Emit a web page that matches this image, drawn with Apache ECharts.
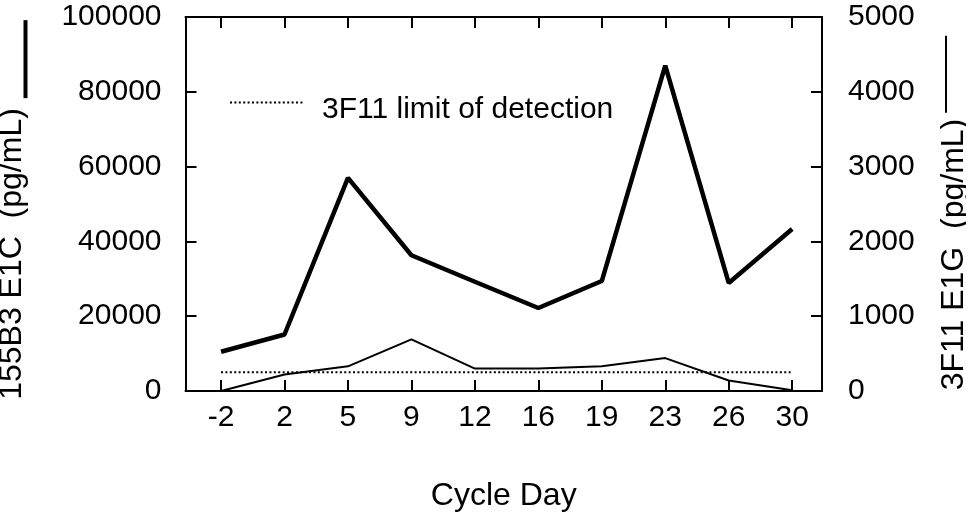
<!DOCTYPE html>
<html>
<head>
<meta charset="utf-8">
<script src="https://cdn.jsdelivr.net/npm/echarts@6/dist/echarts.min.js"></script>
<style>html,body{margin:0;padding:0;background:#fff}#c{width:966px;height:512px}</style>
</head>
<body>
<div id="c"></div>
<script>
var categories = ['-2', '2', '5', '9', '12', '16', '19', '23', '26', '30'];
var e1cValues = [10500, 15100, 57000, 36300, 29200, 22200, 29400, 87000, 28900, 43300];
var e1gValues = [0, 220, 330, 690, 300, 300, 330, 440, 140, 10];
var limitValues = [250, 250, 250, 250, 250, 250, 250, 250, 250, 250];
var leftTicks = [0, 20000, 40000, 60000, 80000, 100000];
var rightTicks = [0, 1000, 2000, 3000, 4000, 5000];

var FONT = 'Liberation Sans, Arial, sans-serif';
var idx = categories.map(function (c, i) { return i; });
function pairs(vals) { return vals.map(function (v, i) { return [idx[i], v]; }); }

var chart = echarts.init(document.getElementById('c'), null, {renderer: 'canvas'});
var axisLine = {show: true, onZero: false, lineStyle: {color: '#000', width: 2}};
function tick(extra) {
  return Object.assign({show: true, inside: false, length: -11, lineStyle: {color: '#000', width: 2}}, extra || {});
}
var plain = function (v) { return String(v); };
chart.setOption({
  animation: false,
  backgroundColor: '#fff',
  grid: {left: 185.5, right: 144, top: 17, bottom: 121, containLabel: false, outerBoundsMode: 'none'},
  legend: {
    data: ['3F11 limit of detection'],
    left: 229, top: 94.5, padding: 0,
    itemWidth: 73, itemHeight: 14,
    itemStyle: {color: 'transparent', borderColor: 'transparent', borderWidth: 0},
    formatter: '{a|{name}}',
    textStyle: {fontFamily: FONT, fontSize: 30, color: '#000',
      rich: {a: {fontFamily: FONT, fontSize: 30, color: '#000', padding: [14, 0, 0, 14]}}}
  },
  xAxis: [{
    type: 'value', min: -0.56, max: 9.47, position: 'bottom',
    axisLine: axisLine,
    axisTick: tick({customValues: idx}),
    axisLabel: {customValues: idx, fontFamily: FONT, fontSize: 30, color: '#000', margin: 12,
      formatter: function (v) { return categories[Math.round(v)]; }},
    name: 'Cycle Day', nameLocation: 'middle', nameGap: 89,
    nameTextStyle: {fontFamily: FONT, fontSize: 32, color: '#000'},
    splitLine: {show: false}
  }, {
    type: 'value', min: -0.56, max: 9.47, position: 'top',
    axisLine: axisLine,
    axisTick: tick({customValues: idx}),
    axisLabel: {show: false}, splitLine: {show: false}
  }],
  yAxis: [{
    type: 'value', position: 'left', min: leftTicks[0], max: leftTicks[leftTicks.length - 1], interval: 20000,
    axisLine: axisLine, axisTick: tick(), splitLine: {show: false},
    axisLabel: {fontFamily: FONT, fontSize: 30, color: '#000', margin: 24, formatter: plain},
    name: '{t|155B3 E1C  (pg/mL)}{g|}{l|}{s|}', nameLocation: 'middle', nameGap: 131, nameRotate: 90,
    nameMoveOverlap: false,
    nameTextStyle: {fontFamily: FONT, fontSize: 32, color: '#000',
      rich: {
        t: {fontFamily: FONT, fontSize: 32, color: '#000', verticalAlign: 'top'},
        g: {width: 10, height: 4},
        l: {width: 78, height: 4, lineHeight: 58, verticalAlign: 'middle', backgroundColor: '#000'},
        s: {width: 12, height: 4}
      }}
  }, {
    type: 'value', position: 'right', min: rightTicks[0], max: rightTicks[rightTicks.length - 1], interval: 1000,
    axisLine: axisLine, axisTick: tick(), splitLine: {show: false},
    axisLabel: {fontFamily: FONT, fontSize: 30, color: '#000', margin: 26, formatter: plain},
    name: '{t|3F11 E1G  (pg/mL)}{g|}{l|}{s|}', nameLocation: 'middle', nameGap: 100, nameRotate: 90,
    nameMoveOverlap: false,
    nameTextStyle: {fontFamily: FONT, fontSize: 32, color: '#000',
      rich: {
        t: {fontFamily: FONT, fontSize: 32, color: '#000', verticalAlign: 'bottom'},
        g: {width: 6, height: 2},
        l: {width: 77, height: 2, lineHeight: 48, verticalAlign: 'middle', backgroundColor: '#000'},
        s: {width: 18, height: 2}
      }}
  }],
  series: [{
    name: '155B3 E1C', type: 'line', data: pairs(e1cValues), xAxisIndex: 0, yAxisIndex: 0,
    symbol: 'none', lineStyle: {color: '#000', width: 4.5}, z: 3
  }, {
    name: '3F11 E1G', type: 'line', data: pairs(e1gValues), xAxisIndex: 0, yAxisIndex: 1,
    symbol: 'none', lineStyle: {color: '#000', width: 2}, z: 3
  }, {
    name: '3F11 limit of detection', type: 'line', data: pairs(limitValues), xAxisIndex: 0, yAxisIndex: 1,
    symbol: 'none', lineStyle: {color: '#000', width: 2, type: [2, 2.4]}, itemStyle: {color: '#000'}, z: 2
  }]
});
</script>
</body>
</html>
